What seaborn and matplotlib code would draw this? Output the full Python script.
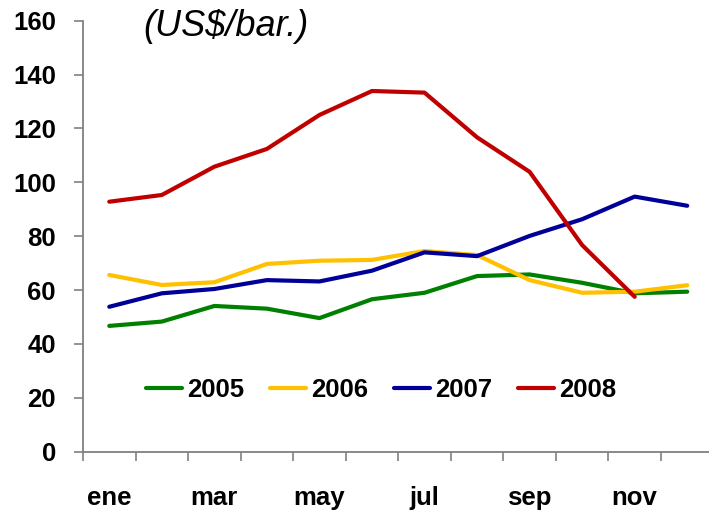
import numpy as np
import pandas as pd
import matplotlib.pyplot as plt
import seaborn as sns

months = ["ene", "feb", "mar", "abr", "may", "jun", "jul", "ago", "sep", "oct", "nov", "dic"]
years = ["2005", "2006", "2007", "2008"]

p2005 = [46.7, 48.3, 54.1, 53.1, 49.6, 56.6, 59.0, 65.2, 65.8, 62.7, 58.8, 59.4]
p2006 = [65.6, 61.9, 62.9, 69.7, 70.9, 71.2, 74.5, 73.0, 63.7, 59.0, 59.4, 61.8]
p2007 = [53.8, 58.8, 60.4, 63.7, 63.2, 67.2, 74.0, 72.6, 80.1, 86.3, 94.7, 91.3]
p2008 = [92.8, 95.3, 105.8, 112.4, 125.0, 133.9, 133.3, 116.7, 103.9, 76.7, 57.5, np.nan]

colors = ["#008000", "#FFC000", "#000099", "#C00000"]

# long-form table for seaborn
df = pd.DataFrame({
    "mes": list(range(12)) * 4,
    "precio": p2005 + p2006 + p2007 + p2008,
    "anio": [y for y in years for _ in range(12)],
})

sns.set_style("white")
plt.rcParams["font.family"] = ["Liberation Sans", "DejaVu Sans"]
plt.rcParams["text.color"] = "black"
plt.rcParams["xtick.color"] = "black"
plt.rcParams["ytick.color"] = "black"

fig = plt.figure(figsize=(7.09, 5.12), dpi=100)
ax = fig.add_axes([83 / 709, (512 - 451.7) / 512, 630.5 / 709, 431 / 512])

sns.lineplot(data=df, x="mes", y="precio", hue="anio", palette=colors,
             linewidth=3, ax=ax)

ax.set_xlim(-0.5, 11.5)
ax.set_ylim(0, 160)
ax.set_yticks(range(0, 161, 20))
ax.set_xlabel("")
ax.set_ylabel("")

# tick marks between months, labels on every other month
ax.set_xticks(np.arange(-0.5, 12, 1))
ax.set_xticklabels([])
ax.set_xticks(range(0, 12, 2), minor=True)
ax.set_xticklabels(months[::2], minor=True, fontsize=18.5, fontweight="bold")
ax.tick_params(axis="x", which="major", bottom=True, length=6.5, width=1.2,
               color="#808080", direction="out")
ax.tick_params(axis="x", which="minor", bottom=True, length=0, pad=25)
ax.tick_params(axis="y", left=True, length=6.5, width=1.2, color="#808080",
               direction="out", pad=13)
for lab in ax.get_yticklabels():
    lab.set_fontsize(18.5)
    lab.set_fontweight("bold")

for side in ["top", "right"]:
    ax.spines[side].set_visible(False)
for side in ["left", "bottom"]:
    ax.spines[side].set_color("#808080")
    ax.spines[side].set_linewidth(1.3)

ax.legend(ncol=4, frameon=False, loc="center", bbox_to_anchor=(381 / 709, 1 - 390 / 512),
          bbox_transform=fig.transFigure, prop={"size": 18.5, "weight": "bold"},
          handlelength=1.4, handletextpad=0.2, columnspacing=1.0)

fig.text(226 / 709, 1 - 27 / 512, "(US$/bar.)", fontsize=26, style="italic",
         ha="center", va="center")

fig.savefig("out.png", dpi=100)
